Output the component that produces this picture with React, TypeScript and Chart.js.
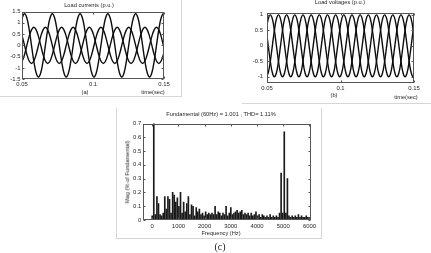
import React, { useEffect, useRef } from 'react';
import { Chart, registerables } from 'chart.js';

Chart.register(...registerables);

// ---------- (a) Load currents (p.u.) ----------
const currentTime = [
  0.04854, 0.05017, 0.0518, 0.05343, 0.05506, 0.05669, 0.05832, 0.05995, 0.06158, 0.06321, 0.06484, 0.06647,
  0.0681, 0.06973, 0.07136, 0.07299, 0.07462, 0.07625, 0.07788, 0.07951, 0.08114, 0.08277, 0.0844, 0.08603,
  0.08766, 0.08929, 0.09092, 0.09255, 0.09418, 0.09581, 0.09744, 0.09907, 0.1007, 0.10233, 0.10396, 0.10559,
  0.10722, 0.10885, 0.11048, 0.11211, 0.11374, 0.11537, 0.117, 0.11863, 0.12026, 0.12189, 0.12352, 0.12515,
  0.12678, 0.12841, 0.13004, 0.13167, 0.1333, 0.13493, 0.13656, 0.13819, 0.13982, 0.14145, 0.14308, 0.14471,
  0.14634, 0.14797, 0.1496, 0.15123,
];
const currentPhaseA = [
  0.7, 1.21, 1.4, 1.21, 0.7, 0, -0.7, -1.21, -1.4, -1.21, -0.7, 0,
  0.7, 1.21, 1.4, 1.21, 0.7, 0, -0.7, -1.21, -1.4, -1.21, -0.7, 0,
  0.7, 1.21, 1.4, 1.21, 0.7, 0, -0.7, -1.21, -1.4, -1.21, -0.7, 0,
  0.7, 1.21, 1.4, 1.21, 0.7, 0, -0.7, -1.21, -1.4, -1.21, -0.7, 0,
  0.7, 1.21, 1.4, 1.21, 0.7, 0, -0.7, -1.21, -1.4, -1.21, -0.7, 0,
  0.7, 1.21, 1.4, 1.21,
];
const currentPhaseB = [
  -0.8, -0.69, -0.4, 0, 0.4, 0.69, 0.8, 0.69, 0.4, 0, -0.4, -0.69,
  -0.8, -0.69, -0.4, 0, 0.4, 0.69, 0.8, 0.69, 0.4, 0, -0.4, -0.69,
  -0.8, -0.69, -0.4, 0, 0.4, 0.69, 0.8, 0.69, 0.4, 0, -0.4, -0.69,
  -0.8, -0.69, -0.4, 0, 0.4, 0.69, 0.8, 0.69, 0.4, 0, -0.4, -0.69,
  -0.8, -0.69, -0.4, 0, 0.4, 0.69, 0.8, 0.69, 0.4, 0, -0.4, -0.69,
  -0.8, -0.69, -0.4, 0,
];
const currentPhaseC = [
  0.69, 0.4, 0, -0.4, -0.69, -0.8, -0.69, -0.4, 0, 0.4, 0.69, 0.8,
  0.69, 0.4, 0, -0.4, -0.69, -0.8, -0.69, -0.4, 0, 0.4, 0.69, 0.8,
  0.69, 0.4, 0, -0.4, -0.69, -0.8, -0.69, -0.4, 0, 0.4, 0.69, 0.8,
  0.69, 0.4, 0, -0.4, -0.69, -0.8, -0.69, -0.4, 0, 0.4, 0.69, 0.8,
  0.69, 0.4, 0, -0.4, -0.69, -0.8, -0.69, -0.4, 0, 0.4, 0.69, 0.8,
  0.69, 0.4, 0, -0.4,
];
const currentYTicks = [-1.5, -1, -0.5, 0, 0.5, 1, 1.5];
const currentYLabels = ['-1.5', '-1', '-0.5', '0', '0.5', '1', '1.5'];

const timeTicks = [0.05, 0.1, 0.15];
const timeTickLabels = ['0.05', '0.1', '0.15'];

// ---------- (b) Load voltages (p.u.) ----------
const voltageTime = [
  0.04947, 0.05086, 0.05225, 0.05364, 0.05503, 0.05642, 0.05781, 0.05919, 0.06058, 0.06197, 0.06336, 0.06475,
  0.06614, 0.06753, 0.06892, 0.07031, 0.07169, 0.07308, 0.07447, 0.07586, 0.07725, 0.07864, 0.08003, 0.08142,
  0.08281, 0.08419, 0.08558, 0.08697, 0.08836, 0.08975, 0.09114, 0.09253, 0.09392, 0.09531, 0.09669, 0.09808,
  0.09947, 0.10086, 0.10225, 0.10364, 0.10503, 0.10642, 0.10781, 0.10919, 0.11058, 0.11197, 0.11336, 0.11475,
  0.11614, 0.11753, 0.11892, 0.12031, 0.12169, 0.12308, 0.12447, 0.12586, 0.12725, 0.12864, 0.13003, 0.13142,
  0.13281, 0.13419, 0.13558, 0.13697, 0.13836, 0.13975, 0.14114, 0.14253, 0.14392, 0.14531, 0.14669, 0.14808,
  0.14947, 0.15086,
];
const voltagePhaseA = [
  0.5, 0.87, 1, 0.87, 0.5, 0, -0.5, -0.87, -1, -0.87, -0.5, 0,
  0.5, 0.87, 1, 0.87, 0.5, 0, -0.5, -0.87, -1, -0.87, -0.5, 0,
  0.5, 0.87, 1, 0.87, 0.5, 0, -0.5, -0.87, -1, -0.87, -0.5, 0,
  0.5, 0.87, 1, 0.87, 0.5, 0, -0.5, -0.87, -1, -0.87, -0.5, 0,
  0.5, 0.87, 1, 0.87, 0.5, 0, -0.5, -0.87, -1, -0.87, -0.5, 0,
  0.5, 0.87, 1, 0.87, 0.5, 0, -0.5, -0.87, -1, -0.87, -0.5, 0,
  0.5, 0.87,
];
const voltagePhaseB = [
  -1, -0.87, -0.5, 0, 0.5, 0.87, 1, 0.87, 0.5, 0, -0.5, -0.87,
  -1, -0.87, -0.5, 0, 0.5, 0.87, 1, 0.87, 0.5, 0, -0.5, -0.87,
  -1, -0.87, -0.5, 0, 0.5, 0.87, 1, 0.87, 0.5, 0, -0.5, -0.87,
  -1, -0.87, -0.5, 0, 0.5, 0.87, 1, 0.87, 0.5, 0, -0.5, -0.87,
  -1, -0.87, -0.5, 0, 0.5, 0.87, 1, 0.87, 0.5, 0, -0.5, -0.87,
  -1, -0.87, -0.5, 0, 0.5, 0.87, 1, 0.87, 0.5, 0, -0.5, -0.87,
  -1, -0.87,
];
const voltagePhaseC = [
  0.5, 0, -0.5, -0.87, -1, -0.87, -0.5, 0, 0.5, 0.87, 1, 0.87,
  0.5, 0, -0.5, -0.87, -1, -0.87, -0.5, 0, 0.5, 0.87, 1, 0.87,
  0.5, 0, -0.5, -0.87, -1, -0.87, -0.5, 0, 0.5, 0.87, 1, 0.87,
  0.5, 0, -0.5, -0.87, -1, -0.87, -0.5, 0, 0.5, 0.87, 1, 0.87,
  0.5, 0, -0.5, -0.87, -1, -0.87, -0.5, 0, 0.5, 0.87, 1, 0.87,
  0.5, 0, -0.5, -0.87, -1, -0.87, -0.5, 0, 0.5, 0.87, 1, 0.87,
  0.5, 0,
];
const voltageYTicks = [-1, -0.5, 0, 0.5, 1];
const voltageYLabels = ['-1', '-0.5', '0', '0.5', '1'];

// ---------- (c) FFT spectrum ----------
const harmonicFreq = [
  0, 60, 120, 180, 240, 300, 360, 420, 480, 540, 600, 660, 720, 780, 840, 900, 960, 1020, 1080, 1140,
  1200, 1260, 1320, 1380, 1440, 1500, 1560, 1620, 1680, 1740, 1800, 1860, 1920, 1980, 2040, 2100, 2160, 2220, 2280, 2340,
  2400, 2460, 2520, 2580, 2640, 2700, 2760, 2820, 2880, 2940, 3000, 3060, 3120, 3180, 3240, 3300, 3360, 3420, 3480, 3540,
  3600, 3660, 3720, 3780, 3840, 3900, 3960, 4020, 4080, 4140, 4200, 4260, 4320, 4380, 4440, 4500, 4560, 4620, 4680, 4740,
  4800, 4860, 4920, 4980, 5040, 5100, 5160, 5220, 5280, 5340, 5400, 5460, 5520, 5580, 5640, 5700, 5760, 5820, 5880, 5940,
  6000,
];
const harmonicMag = [
  0.03, 100, 0.04, 0.17, 0.12, 0.04, 0.03, 0.05, 0.17, 0.08, 0.17,
  0.15, 0.05, 0.2, 0.18, 0.13, 0.16, 0.1, 0.2, 0.05, 0.13,
  0.06, 0.12, 0.17, 0.04, 0.11, 0.1, 0.03, 0.09, 0.06, 0.08,
  0.04, 0.05, 0.03, 0.06, 0.04, 0.05, 0.04, 0.05, 0.04, 0.1,
  0.04, 0.06, 0.05, 0.03, 0.05, 0.04, 0.1, 0.03, 0.05, 0.09,
  0.04, 0.05, 0.06, 0.07, 0.05, 0.06, 0.07, 0.04, 0.05, 0.04,
  0.05, 0.03, 0.05, 0.03, 0.04, 0.06, 0.03, 0.04, 0.02, 0.04,
  0.03, 0.02, 0.03, 0.02, 0.04, 0.02, 0.03, 0.02, 0.03, 0.02,
  0.05, 0.34, 0.05, 0.64, 0.05, 0.3, 0.03, 0.02, 0.03, 0.02,
  0.03, 0.02, 0.04, 0.02, 0.03, 0.02, 0.02, 0.03, 0.02, 0.02,
];
const freqTicks = [0, 1000, 2000, 3000, 4000, 5000, 6000];
const freqTickLabels = ['0', '1000', '2000', '3000', '4000', '5000', '6000'];
const magTicks = [0, 0.1, 0.2, 0.3, 0.4, 0.5, 0.6, 0.7];
const magTickLabels = ['0', '0.1', '0.2', '0.3', '0.4', '0.5', '0.6', '0.7'];

const FONT = "'Liberation Sans', Arial, sans-serif";
const TEXT = '#262626';

const boxPlugin = {
  id: 'matlabBox',
  afterDraw(chart: any) {
    const { ctx, chartArea: a, scales } = chart;
    ctx.save();
    ctx.strokeStyle = '#555';
    ctx.lineWidth = 1;
    const l = Math.round(a.left) + 0.5;
    const t = Math.round(a.top) + 0.5;
    const r = Math.round(a.right) - 0.5;
    const b = Math.round(a.bottom) - 0.5;
    ctx.strokeRect(l, t, r - l, b - t);
    ctx.beginPath();
    const xs = scales.x;
    const ys = scales.y;
    xs.ticks.forEach((tk: any) => {
      const px = Math.round(xs.getPixelForValue(tk.value)) + 0.5;
      ctx.moveTo(px, b); ctx.lineTo(px, b - 2);
      ctx.moveTo(px, t); ctx.lineTo(px, t + 2);
    });
    ys.ticks.forEach((tk: any) => {
      const py = Math.round(ys.getPixelForValue(tk.value)) + 0.5;
      ctx.moveTo(l, py); ctx.lineTo(l + 2, py);
      ctx.moveTo(r, py); ctx.lineTo(r - 2, py);
    });
    ctx.stroke();
    ctx.restore();
  },
};

function labelFor(values: number[], labels: string[]) {
  return (v: any) => {
    const i = values.findIndex((x) => Math.abs(x - Number(v)) < 1e-9);
    return i >= 0 ? labels[i] : '';
  };
}

function axis(opts: {
  min: number; max: number; ticks: number[]; labels: string[]; size: number; vertical: boolean; pad: number;
}) {
  return {
    type: 'linear',
    min: opts.min,
    max: opts.max,
    grid: { display: false, drawTicks: false },
    border: { display: false },
    afterBuildTicks: (ax: any) => { ax.ticks = opts.ticks.map((v) => ({ value: v })); },
    afterFit: (ax: any) => { if (opts.vertical) ax.width = opts.size; else ax.height = opts.size; },
    ticks: {
      padding: opts.pad,
      autoSkip: false,
      maxRotation: 0,
      minRotation: 0,
      color: TEXT,
      font: { family: FONT, size: 5.9 },
      callback: labelFor(opts.ticks, opts.labels),
    },
  };
}

function lineConfig(times: number[], series: number[][], yMin: number, yMax: number, yTicks: number[], yLabels: string[],
  pad: any, yW: number, xH: number, yPad: number, xPad: number) {
  return {
    type: 'line',
    data: {
      datasets: series.map((s) => ({
        data: times.map((t, i) => ({ x: t, y: s[i] })),
        borderColor: '#0d0d0d',
        borderWidth: 1.4,
        pointRadius: 0,
        tension: 0.4,
        fill: false,
      })),
    },
    options: {
      animation: false,
      responsive: false,
      maintainAspectRatio: false,
      layout: { padding: pad },
      plugins: { legend: { display: false }, tooltip: { enabled: false }, title: { display: false } },
      scales: {
        x: axis({ min: 0.05, max: 0.15, ticks: timeTicks, labels: timeTickLabels, size: xH, vertical: false, pad: xPad }),
        y: axis({ min: yMin, max: yMax, ticks: yTicks, labels: yLabels, size: yW, vertical: true, pad: yPad }),
      },
    },
    plugins: [boxPlugin],
  };
}

function barConfig() {
  return {
    type: 'bar',
    data: {
      datasets: [{
        data: harmonicFreq.map((f, i) => ({ x: f, y: harmonicMag[i] })),
        backgroundColor: '#1a1a1a',
        barThickness: 1,
        borderWidth: 0,
      }],
    },
    options: {
      animation: false,
      responsive: false,
      maintainAspectRatio: false,
      layout: { padding: { top: 15.5, right: 11, left: 0, bottom: 0 } },
      plugins: { legend: { display: false }, tooltip: { enabled: false }, title: { display: false } },
      scales: {
        x: { ...axis({ min: -340, max: 6060, ticks: freqTicks, labels: freqTickLabels, size: 18, vertical: false, pad: 3 }), offset: false },
        y: axis({ min: 0, max: 0.7, ticks: magTicks, labels: magTickLabels, size: 26.3, vertical: true, pad: 2 }),
      },
    },
    plugins: [boxPlugin],
  };
}

function ChartCanvas({ left, top, width, height, make }: any) {
  const ref = useRef<HTMLCanvasElement>(null);
  useEffect(() => {
    if (!ref.current) return;
    const chart = new Chart(ref.current, make() as any);
    return () => chart.destroy();
  }, []);
  return (
    <canvas
      ref={ref}
      width={width}
      height={height}
      style={{ position: 'absolute', left, top, width, height }}
    />
  );
}

function Text({ x, y, children, size = 5.7, family = FONT, rotate = 0, color = TEXT }: any) {
  return (
    <div
      style={{
        position: 'absolute', left: x, top: y, whiteSpace: 'nowrap', fontFamily: family, fontSize: size,
        color, lineHeight: 1, transform: `translate(-50%, -50%) rotate(${rotate}deg)`,
      }}
    >
      {children}
    </div>
  );
}

function Line({ x, y, w, h }: any) {
  return <div style={{ position: 'absolute', left: x, top: y, width: w, height: h, background: '#d6d6d6' }} />;
}

export default function App() {
  return (
    <div style={{ position: 'absolute', left: 0, top: 0, width: 431, height: 253, background: '#fff', overflow: 'hidden' }}>
      {/* frames */}
      <Line x={181} y={0} w={1} h={97} />
      <Line x={0} y={96} w={182} h={1} />
      <Line x={242} y={103} w={189} h={1} />
      <Line x={116} y={108} w={1} h={131} />
      <Line x={321} y={108} w={1} h={131} />
      <Line x={116} y={238} w={206} h={1} />

      <ChartCanvas left={0} top={0} width={182} height={97}
        make={() => lineConfig(currentTime, [currentPhaseA, currentPhaseB, currentPhaseC], -1.5, 1.5,
          currentYTicks, currentYLabels, { top: 11.5, right: 18, left: 0, bottom: 0 }, 22, 17.7, 1.5, 2)} />
      <ChartCanvas left={241} top={0} width={190} height={104}
        make={() => lineConfig(voltageTime, [voltagePhaseA, voltagePhaseB, voltagePhaseC], -1.21, 1.05,
          voltageYTicks, voltageYLabels, { top: 13.3, right: 17, left: 0, bottom: 0 }, 26, 20.7, 4, 2)} />
      <ChartCanvas left={117} top={108} width={205} height={130} make={barConfig} />

      <Text x={89} y={6}>Load currents (p.u.)</Text>
      <Text x={85} y={93.3}>(a)</Text>
      <Text x={153} y={93.3}>time(sec)</Text>

      <Text x={340} y={2.5}>Load voltages (p.u.)</Text>
      <Text x={334} y={96}>(b)</Text>
      <Text x={406} y={98}>time(sec)</Text>

      <Text x={221} y={115}>Fundamental (60Hz) = 1.001 , THD= 1.11%</Text>
      <Text x={128.3} y={171.7} rotate={-90}>Mag (% of Fundamental)</Text>
      <Text x={221} y={234}>Frequency (Hz)</Text>
      <Text x={220} y={246.5} size={10} family="'Liberation Serif', 'Times New Roman', serif" color="#222">(c)</Text>
    </div>
  );
}
